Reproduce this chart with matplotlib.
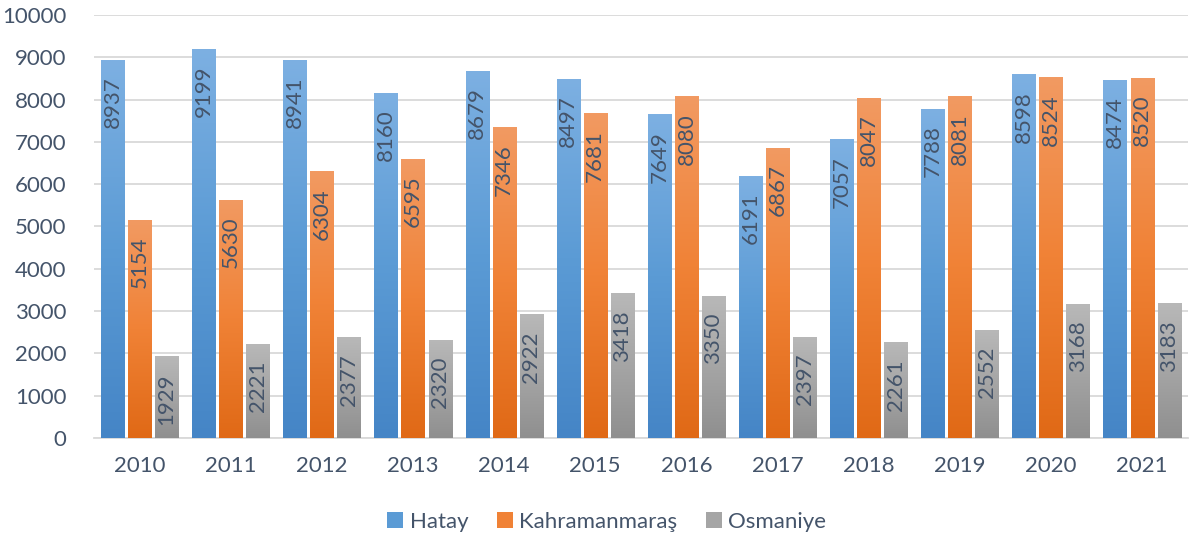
import matplotlib.pyplot as plt
import numpy as np
from matplotlib.colors import LinearSegmentedColormap
from matplotlib.patches import Patch

years = ["2010", "2011", "2012", "2013", "2014", "2015", "2016", "2017", "2018", "2019", "2020", "2021"]
hatay = [8937, 9199, 8941, 8160, 8679, 8497, 7649, 6191, 7057, 7788, 8598, 8474]
kahramanmaras = [5154, 5630, 6304, 6595, 7346, 7681, 8080, 6867, 8047, 8081, 8524, 8520]
osmaniye = [1929, 2221, 2377, 2320, 2922, 3418, 3350, 2397, 2261, 2552, 3168, 3183]
series_names = ["Hatay", "Kahramanmaraş", "Osmaniye"]

# gradient stops: top, middle, bottom
grads = [
    ["#7DB0E2", "#5B9BD5", "#4585C6"],
    ["#F29A62", "#F08236", "#E06916"],
    ["#B8B8B8", "#A5A5A5", "#8F8F8F"],
]
text_col = "#44546A"
font = "Lato"
fs = 16

plt.rcParams['font.family'] = [font, 'DejaVu Sans']

fig = plt.figure(figsize=(11.9, 5.36), dpi=100)
ax = fig.add_axes([0.079, 0.183, 0.919, 0.789])

x = np.arange(len(years))
width = 0.253
step = 0.297

for i, vals in enumerate([hatay, kahramanmaras, osmaniye]):
    bars = ax.bar(x + (i - 1) * step, vals, width, color="none", edgecolor="none", zorder=3)
    cmap = LinearSegmentedColormap.from_list("g%d" % i, grads[i][::-1])
    grad = np.linspace(0, 1, 256).reshape(-1, 1)
    for b, v in zip(bars, vals):
        x0, y0 = b.get_x(), b.get_y()
        w, h = b.get_width(), b.get_height()
        im = ax.imshow(grad, cmap=cmap, origin="lower", aspect="auto",
                       extent=[x0, x0 + w, y0, y0 + h], zorder=3, interpolation="bilinear")
        im.set_clip_path(b)
        ax.annotate(str(v), (b.get_x() + w / 2, v), xytext=(0, -12),
                    textcoords="offset points", rotation=90, ha="center", va="top",
                    fontsize=fs, color=text_col, zorder=4)

ax.set_xlim(-0.5, len(years) - 0.5)
ax.set_ylim(0, 10000)
ax.set_yticks(np.arange(0, 10001, 1000))
ax.set_xticks(x)
ax.set_xticklabels(years)
ax.yaxis.grid(True, color="#D9D9D9", linewidth=1.3, zorder=0)
ax.set_axisbelow(True)
for s in ["top", "right", "left"]:
    ax.spines[s].set_visible(False)
ax.spines["bottom"].set_color("#D9D9D9")
ax.spines["bottom"].set_linewidth(1.3)
ax.tick_params(axis="both", length=0, labelsize=fs, labelcolor=text_col)
ax.tick_params(axis="y", pad=20)
ax.tick_params(axis="x", pad=13)

handles = [Patch(facecolor=g[1], edgecolor="none") for g in grads]
fig.legend(handles, series_names, loc="center", bbox_to_anchor=(0.51, 0.027), ncol=3,
           frameon=False, fontsize=fs, labelcolor=text_col, handlelength=0.7,
           handleheight=0.7, handletextpad=0.3, columnspacing=1.3)

fig.savefig("out.png", dpi=100)
